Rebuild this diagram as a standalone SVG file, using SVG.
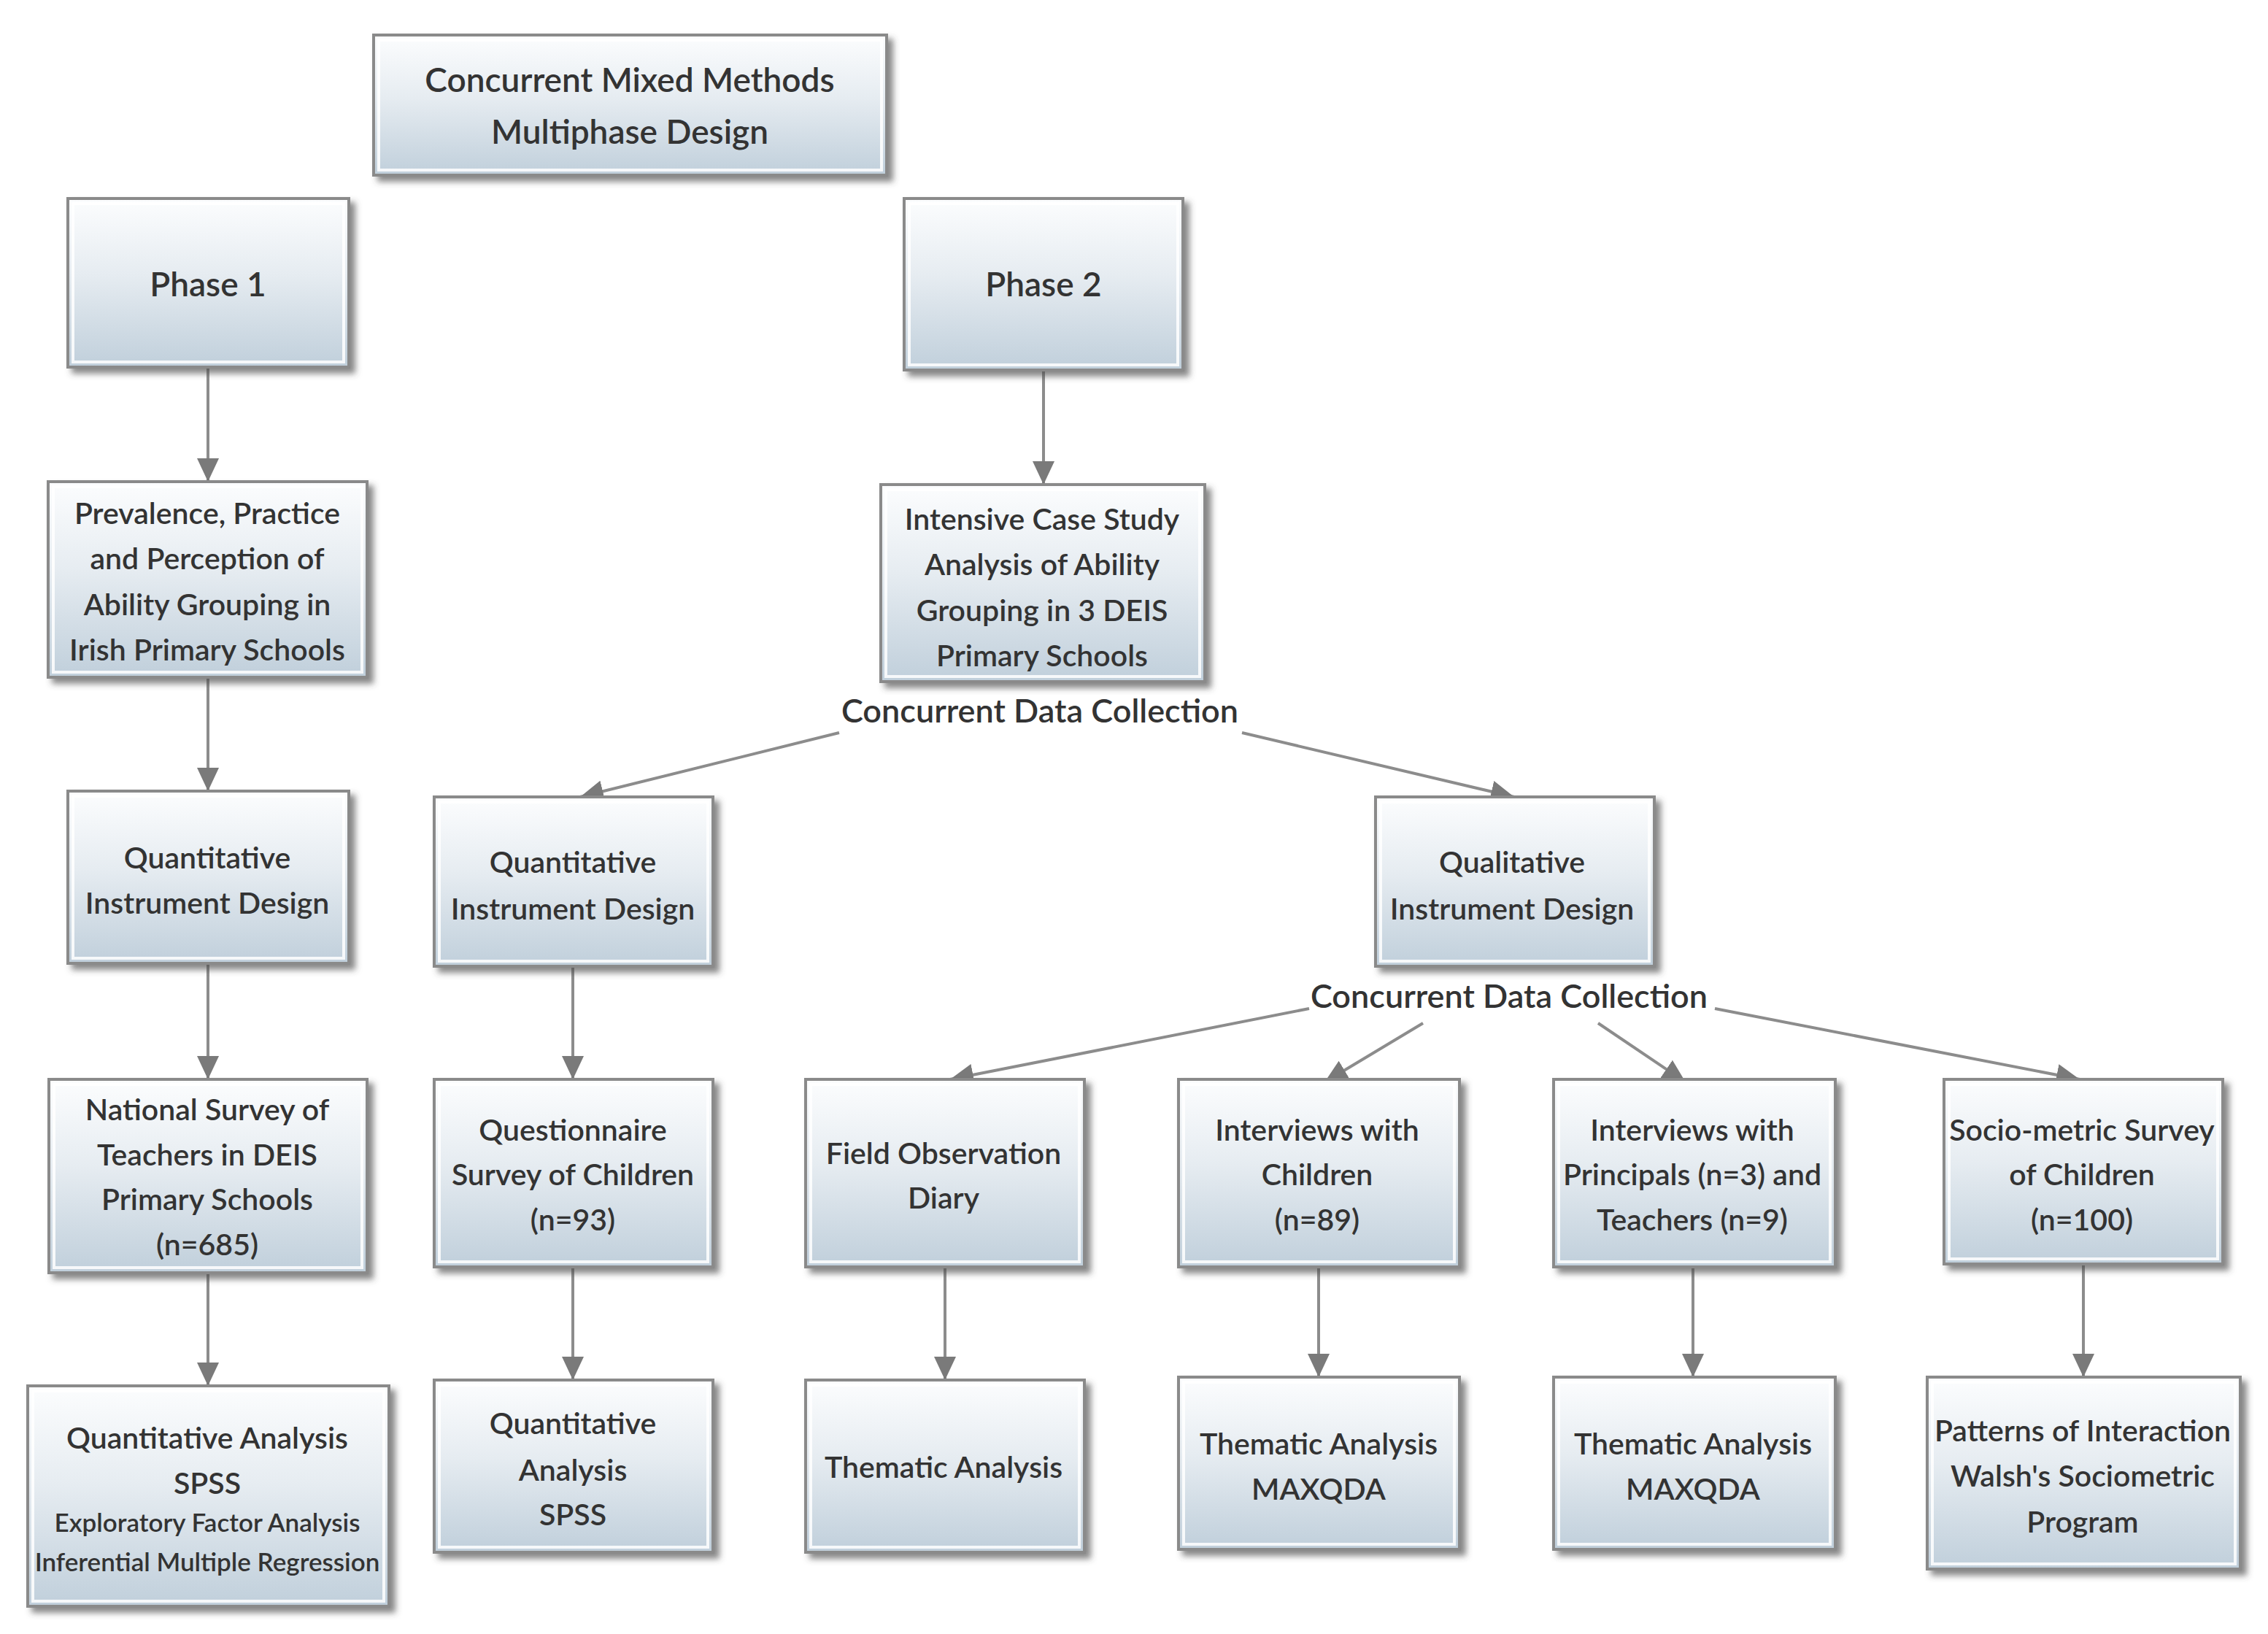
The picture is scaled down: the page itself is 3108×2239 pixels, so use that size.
<svg xmlns="http://www.w3.org/2000/svg" width="3108" height="2239" viewBox="0 0 3108 2239">
<style>
.box{fill:url(#g);stroke:#8a8a8a;stroke-width:4;filter:url(#sh)}
.hl{fill:none;stroke:#ffffff;stroke-width:4;opacity:0.85}
text{font-family:Lato,"Open Sans","DejaVu Sans",sans-serif;fill:#333333;text-anchor:middle;font-weight:600}
.t{font-size:41px}
.tb{font-size:46px}
.ts{font-size:35px}
.lbl{font-size:45px}
.c{stroke:#8c8c8c;stroke-width:4;fill:none;marker-end:url(#ah)}
</style>
<defs>
<linearGradient id="g" x1="0" y1="0" x2="0" y2="1">
<stop offset="0" stop-color="#fcfdfe"/>
<stop offset="0.45" stop-color="#e6ecf1"/>
<stop offset="1" stop-color="#c0cfdb"/>
</linearGradient>
<filter id="sh" x="-10%" y="-10%" width="130%" height="130%">
<feDropShadow dx="7" dy="7" stdDeviation="4" flood-color="#4a4a4a" flood-opacity="0.65"/>
</filter>
<marker id="ah" viewBox="0 0 32 30" refX="32" refY="15" markerWidth="32" markerHeight="30" markerUnits="userSpaceOnUse" orient="auto">
<path d="M0,0 L32,15 L0,30 z" fill="#7a7a7a"/>
</marker>
</defs>
<rect width="3108" height="2239" fill="#ffffff"/>

<g id="connectors">
<line class="c" x1="285" y1="505" x2="285" y2="660"/>
<line class="c" x1="1430" y1="509" x2="1430" y2="664"/>
<line class="c" x1="285" y1="930" x2="285" y2="1084"/>
<line class="c" x1="285" y1="1322" x2="285" y2="1479"/>
<line class="c" x1="285" y1="1746" x2="285" y2="1899"/>
<line class="c" x1="785" y1="1326" x2="785" y2="1479"/>
<line class="c" x1="785" y1="1738" x2="785" y2="1891"/>
<line class="c" x1="1295" y1="1738" x2="1295" y2="1891"/>
<line class="c" x1="1807" y1="1738" x2="1807" y2="1887"/>
<line class="c" x1="2320" y1="1738" x2="2320" y2="1887"/>
<line class="c" x1="2855" y1="1734" x2="2855" y2="1887"/>
<line class="c" x1="1150" y1="1004" x2="795" y2="1092"/>
<line class="c" x1="1702" y1="1004" x2="2075" y2="1092"/>
<line class="c" x1="1794" y1="1382" x2="1302" y2="1479"/>
<line class="c" x1="1950" y1="1402" x2="1815" y2="1483"/>
<line class="c" x1="2190" y1="1402" x2="2310" y2="1483"/>
<line class="c" x1="2350" y1="1382" x2="2850" y2="1479"/>
</g>

<g id="n-top">
<rect class="box" x="512" y="48" width="703" height="192"/>
<rect class="hl" x="519" y="55" width="689" height="178"/>
<text class="tb" x="863" y="126">Concurrent Mixed Methods</text>
<text class="tb" x="863" y="197">Multiphase Design</text>
</g>

<g id="n-phase1">
<rect class="box" x="93" y="272" width="385" height="231"/>
<rect class="hl" x="100" y="279" width="371" height="217"/>
<text class="tb" x="285" y="406">Phase 1</text>
</g>

<g id="n-phase2">
<rect class="box" x="1239" y="272" width="382" height="235"/>
<rect class="hl" x="1246" y="279" width="368" height="221"/>
<text class="tb" x="1430" y="406">Phase 2</text>
</g>

<g id="n-prevalence">
<rect class="box" x="66" y="660" width="437" height="268"/>
<rect class="hl" x="73" y="667" width="423" height="254"/>
<text class="t" x="284" y="718">Prevalence, Practice</text>
<text class="t" x="284" y="780">and Perception of</text>
<text class="t" x="284" y="843">Ability Grouping in</text>
<text class="t" x="284" y="905">Irish Primary Schools</text>
</g>

<g id="n-intensive">
<rect class="box" x="1207" y="664" width="444" height="270"/>
<rect class="hl" x="1214" y="671" width="430" height="256"/>
<text class="t" x="1428" y="726">Intensive Case Study</text>
<text class="t" x="1428" y="788">Analysis of Ability</text>
<text class="t" x="1428" y="851">Grouping in 3 DEIS</text>
<text class="t" x="1428" y="913">Primary Schools</text>
</g>

<g id="l-cdc1">
<text class="lbl" x="1425" y="990">Concurrent Data Collection</text>
</g>

<g id="n-quantinstr1">
<rect class="box" x="93" y="1084" width="385" height="236"/>
<rect class="hl" x="100" y="1091" width="371" height="222"/>
<text class="t" x="284" y="1190">Quantitative</text>
<text class="t" x="284" y="1252">Instrument Design</text>
</g>

<g id="n-quantinstr2">
<rect class="box" x="595" y="1092" width="382" height="232"/>
<rect class="hl" x="602" y="1099" width="368" height="218"/>
<text class="t" x="785" y="1196">Quantitative</text>
<text class="t" x="785" y="1260">Instrument Design</text>
</g>

<g id="n-qualinstr">
<rect class="box" x="1885" y="1092" width="382" height="232"/>
<rect class="hl" x="1892" y="1099" width="368" height="218"/>
<text class="t" x="2072" y="1196">Qualitative</text>
<text class="t" x="2072" y="1260">Instrument Design</text>
</g>

<g id="l-cdc2">
<text class="lbl" x="2068" y="1381">Concurrent Data Collection</text>
</g>

<g id="n-national">
<rect class="box" x="67" y="1479" width="436" height="265"/>
<rect class="hl" x="74" y="1486" width="422" height="251"/>
<text class="t" x="284" y="1535">National Survey of</text>
<text class="t" x="284" y="1597">Teachers in DEIS</text>
<text class="t" x="284" y="1658">Primary Schools</text>
<text class="t" x="284" y="1720">(n=685)</text>
</g>

<g id="n-questionnaire">
<rect class="box" x="595" y="1479" width="382" height="257"/>
<rect class="hl" x="602" y="1486" width="368" height="243"/>
<text class="t" x="785" y="1563">Questionnaire</text>
<text class="t" x="785" y="1624">Survey of Children</text>
<text class="t" x="785" y="1686">(n=93)</text>
</g>

<g id="n-field">
<rect class="box" x="1104" y="1479" width="382" height="257"/>
<rect class="hl" x="1111" y="1486" width="368" height="243"/>
<text class="t" x="1293" y="1595">Field Observation</text>
<text class="t" x="1293" y="1656">Diary</text>
</g>

<g id="n-intchildren">
<rect class="box" x="1615" y="1479" width="385" height="257"/>
<rect class="hl" x="1622" y="1486" width="371" height="243"/>
<text class="t" x="1805" y="1563">Interviews with</text>
<text class="t" x="1805" y="1624">Children</text>
<text class="t" x="1805" y="1686">(n=89)</text>
</g>

<g id="n-intprincipals">
<rect class="box" x="2129" y="1479" width="386" height="257"/>
<rect class="hl" x="2136" y="1486" width="372" height="243"/>
<text class="t" x="2319" y="1563">Interviews with</text>
<text class="t" x="2319" y="1624">Principals (n=3) and</text>
<text class="t" x="2319" y="1686">Teachers (n=9)</text>
</g>

<g id="n-socio">
<rect class="box" x="2664" y="1479" width="382" height="253"/>
<rect class="hl" x="2671" y="1486" width="368" height="239"/>
<text class="t" x="2853" y="1563">Socio-metric Survey</text>
<text class="t" x="2853" y="1624">of Children</text>
<text class="t" x="2853" y="1686">(n=100)</text>
</g>

<g id="n-quantanalysis1">
<rect class="box" x="38" y="1899" width="495" height="302"/>
<rect class="hl" x="45" y="1906" width="481" height="288"/>
<text class="t" x="284" y="1985">Quantitative Analysis</text>
<text class="t" x="284" y="2047">SPSS</text>
<text class="ts" x="284" y="2099">Exploratory Factor Analysis</text>
<text class="ts" x="284" y="2153">Inferential Multiple Regression</text>
</g>

<g id="n-quantanalysis2">
<rect class="box" x="595" y="1891" width="382" height="236"/>
<rect class="hl" x="602" y="1898" width="368" height="222"/>
<text class="t" x="785" y="1965">Quantitative</text>
<text class="t" x="785" y="2029">Analysis</text>
<text class="t" x="785" y="2090">SPSS</text>
</g>

<g id="n-thematic">
<rect class="box" x="1104" y="1891" width="382" height="236"/>
<rect class="hl" x="1111" y="1898" width="368" height="222"/>
<text class="t" x="1293" y="2025">Thematic Analysis</text>
</g>

<g id="n-maxqda1">
<rect class="box" x="1615" y="1887" width="385" height="236"/>
<rect class="hl" x="1622" y="1894" width="371" height="222"/>
<text class="t" x="1807" y="1993">Thematic Analysis</text>
<text class="t" x="1807" y="2055">MAXQDA</text>
</g>

<g id="n-maxqda2">
<rect class="box" x="2129" y="1887" width="386" height="236"/>
<rect class="hl" x="2136" y="1894" width="372" height="222"/>
<text class="t" x="2320" y="1993">Thematic Analysis</text>
<text class="t" x="2320" y="2055">MAXQDA</text>
</g>

<g id="n-patterns">
<rect class="box" x="2641" y="1887" width="429" height="263"/>
<rect class="hl" x="2648" y="1894" width="415" height="249"/>
<text class="t" x="2854" y="1975">Patterns of Interaction</text>
<text class="t" x="2854" y="2037">Walsh's Sociometric</text>
<text class="t" x="2854" y="2100">Program</text>
</g>
</svg>
